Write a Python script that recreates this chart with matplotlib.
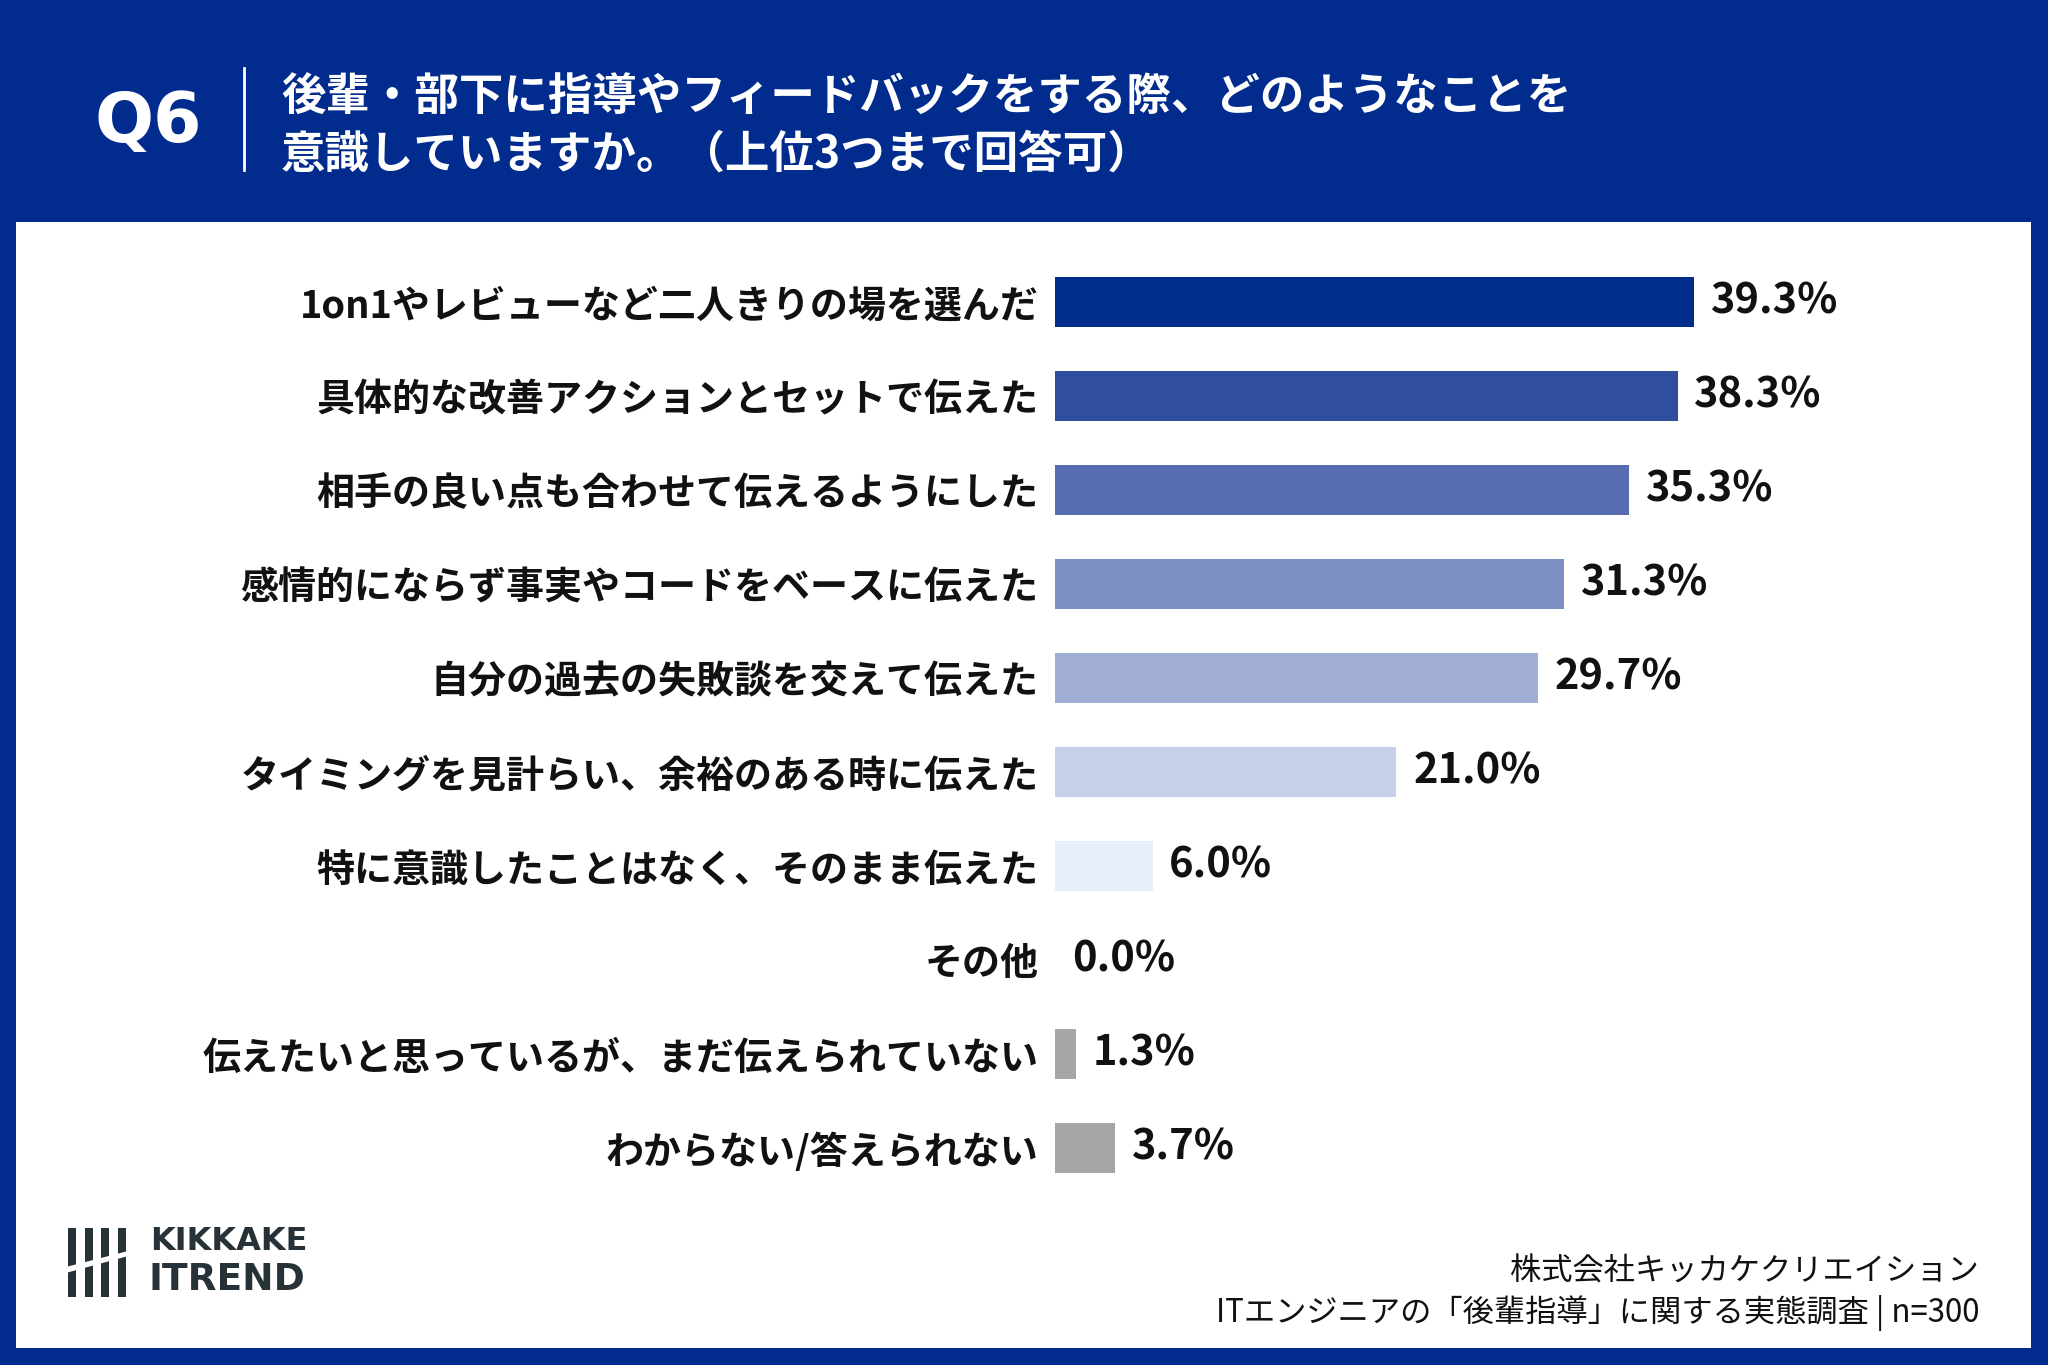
import matplotlib.pyplot as plt
from matplotlib.patches import Rectangle, Polygon

plt.rcParams['font.family'] = ['Noto Sans CJK JP', 'DejaVu Sans']

labels = [
    "1on1やレビューなど二人きりの場を選んだ",
    "具体的な改善アクションとセットで伝えた",
    "相手の良い点も合わせて伝えるようにした",
    "感情的にならず事実やコードをベースに伝えた",
    "自分の過去の失敗談を交えて伝えた",
    "タイミングを見計らい、余裕のある時に伝えた",
    "特に意識したことはなく、そのまま伝えた",
    "その他",
    "伝えたいと思っているが、まだ伝えられていない",
    "わからない/答えられない",
]
values = [39.3, 38.3, 35.3, 31.3, 29.7, 21.0, 6.0, 0.0, 1.3, 3.7]
colors = ["#002c8c", "#2f4e9e", "#566eb0", "#7c8fc3", "#a1afd7",
          "#c6d1e9", "#e6eef9", "#e6eef9", "#a6a6a6", "#a6a6a6"]

W, H = 2048, 1365
navy = "#012b8c"

fig = plt.figure(figsize=(W / 100, H / 100), dpi=100)
fig.patch.set_facecolor(navy)

# white panel
fig.add_artist(Rectangle((16 / W, (H - 1348) / H), (2031 - 16) / W, (1348 - 222) / H,
                         transform=fig.transFigure, facecolor="white", edgecolor="none", zorder=0))

# header
fig.text(94 / W, 1 - 122 / H, "Q6", color="white", fontsize=50, fontweight="bold",
         va="center", ha="left", family=["DejaVu Sans"])
fig.add_artist(plt.Line2D([244 / W, 244 / W], [1 - 68 / H, 1 - 170 / H],
                          transform=fig.transFigure, color="white", lw=2))
fig.text(281 / W, 1 - 98 / H, "後輩・部下に指導やフィードバックをする際、どのようなことを",
         color="white", fontsize=32, fontweight="bold", va="center", ha="left")
fig.text(281 / W, 1 - 155 / H, "意識していますか。（上位3つまで回答可）",
         color="white", fontsize=32, fontweight="bold", va="center", ha="left")

# bars
ax = fig.add_axes([1055 / W, (H - 1195) / H, (1979 - 1055) / W, (1195 - 255) / H])
ax.set_facecolor("none")
y = list(range(len(values)))
ax.barh(y, values, height=0.53, color=colors)
ax.set_xlim(0, 924 / 16.26)
ax.set_ylim(len(values) - 0.5, -0.5)
ax.set_yticks(y)
ax.set_yticklabels(labels, fontsize=27.4, fontweight="bold", color="#111111")
ax.tick_params(axis="y", length=0, pad=12)
ax.set_xticks([])
for s in ax.spines.values():
    s.set_visible(False)
for yi, v in zip(y, values):
    ax.annotate(f"{v:.1f}%", (v, yi), xytext=(12, 0), textcoords="offset points",
                va="center", ha="left", fontsize=30, fontweight="bold", color="#111111")

# logo
dark = "#263238"
for x0 in [68, 85, 101, 118]:
    fig.add_artist(Rectangle((x0 / W, 1 - 1297 / H), 8 / W, 69 / H,
                             transform=fig.transFigure, facecolor=dark, edgecolor="none"))
fig.add_artist(Polygon([(62 / W, 1 - 1268 / H), (132 / W, 1 - 1250 / H),
                        (132 / W, 1 - 1255 / H), (62 / W, 1 - 1274 / H)],
                       transform=fig.transFigure, facecolor="white", edgecolor="none"))
fig.text(150 / W, 1 - 1242 / H, "KIKKAKE", color=dark, fontsize=23, fontweight="bold",
         va="center", ha="left", family=["DejaVu Sans"])
fig.text(148 / W, 1 - 1280 / H, "ITREND", color=dark, fontsize=27, fontweight="bold",
         va="center", ha="left", family=["DejaVu Sans"])

# footer
fig.text(1979 / W, 1 - 1271 / H, "株式会社キッカケクリエイション", fontsize=22.5,
         va="center", ha="right", color="#111111")
fig.text(1979 / W, 1 - 1313 / H, "ITエンジニアの「後輩指導」に関する実態調査 | n=300", fontsize=22.5,
         va="center", ha="right", color="#111111")

fig.savefig("out.png", dpi=100, facecolor=navy)
